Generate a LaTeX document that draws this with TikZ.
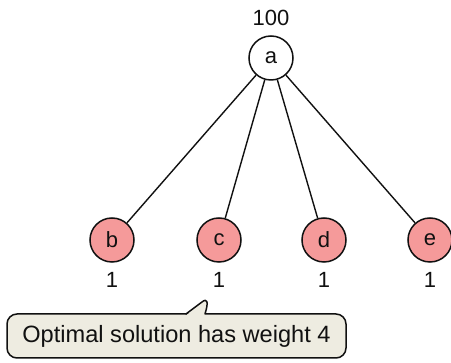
\documentclass[tikz,border=0pt]{standalone}
\usepackage{fontspec}
\setmainfont{Liberation Sans}
\definecolor{leaf}{HTML}{F59A9A}
\definecolor{notefill}{HTML}{EEECE1}
\definecolor{ink}{HTML}{111111}
\begin{document}
\begin{tikzpicture}[x=1pt,y=-1pt,
  every node/.style={font=\fontsize{22}{26}\selectfont, text=ink},
  vert/.style={circle, draw=ink, line width=1.5pt, minimum size=44pt, inner sep=0pt},
  root/.style={vert, fill=white},
  leafnode/.style={vert, fill=leaf},
  edge/.style={draw=ink, line width=1.4pt},
  wlabel/.style={inner sep=0pt},
  notebox/.style={draw=ink, fill=notefill, line width=1.5pt, rounded corners=10pt, minimum width=339pt, minimum height=44pt, inner sep=0pt, font=\fontsize{23.6}{28}\selectfont}]
\useasboundingbox (0,0) rectangle (451,363);
\node[root] (a) at (271,58) {a};
\node[leafnode] (b) at (112,240) {b};
\node[leafnode] (c) at (219,240) {c};
\node[leafnode] (d) at (324,240) {d};
\node[leafnode] (e) at (430,240) {e};
\draw[edge] (a) -- (b);
\draw[edge] (a) -- (c);
\draw[edge] (a) -- (d);
\draw[edge] (a) -- (e);
\node[wlabel] (wa) at (271,18) {100};
\node[wlabel] (wb) at (112,280) {1};
\node[wlabel] (wc) at (219,280) {1};
\node[wlabel] (wd) at (324,280) {1};
\node[wlabel] (we) at (430,280) {1};
\node[notebox] (note) at (176.5,336) {Optimal solution has weight 4};
\coordinate (pl) at (186,314);
\coordinate (pr) at (205,314);
\coordinate (tip) at (202,302);
\fill[notefill] ([yshift=-1.5pt]pl) -- (tip) .. controls (207,298) and (209,301) .. ([yshift=-1.5pt]pr) -- cycle;
\draw[draw=ink, line width=1.5pt, line cap=round, line join=round] (pl) -- (tip) .. controls (207,298) and (209,301) .. (pr);
\end{tikzpicture}
\end{document}
